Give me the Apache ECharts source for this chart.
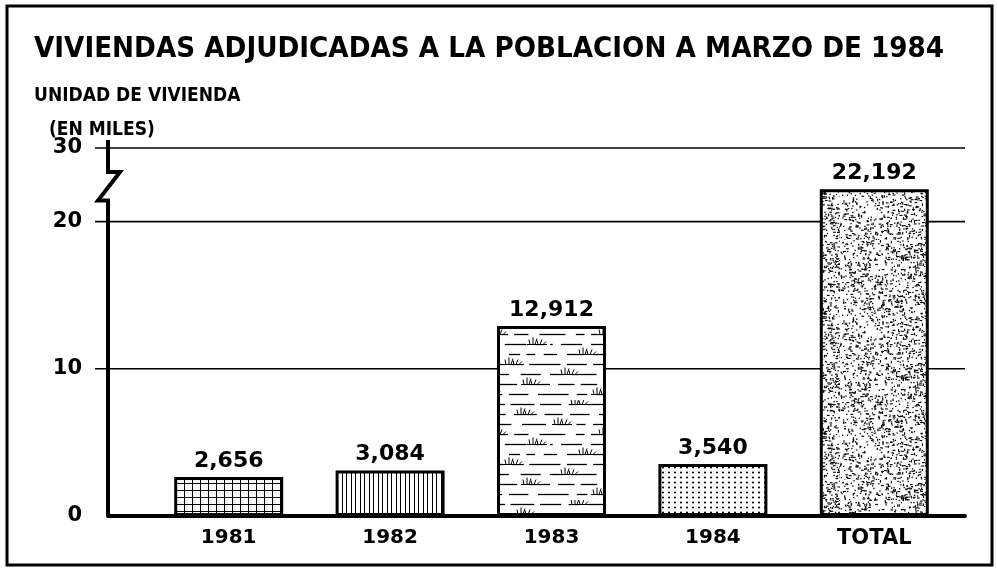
<!DOCTYPE html>
<html>
<head>
<meta charset="utf-8">
<script src="https://cdn.jsdelivr.net/npm/echarts@6/dist/echarts.min.js"></script>
<style>
  html, body { margin: 0; padding: 0; background: #fff; }
  #chart { width: 997px; height: 568px; }
</style>
</head>
<body>
<div id="chart"></div>
<script>
// Viviendas adjudicadas (unidades) por año y total acumulado
const categories = ['1981', '1982', '1983', '1984', 'TOTAL'];
const viviendas = [2656, 3084, 12912, 3540, 22192];
// Vertical scale in thousands; the top tick sits above the axis break and reads 30
const yTickValues = [0, 10, 20, 25];
const yTickLabels = ['0', '10', '20', '30'];
const gridValues = [10, 20, 25];

// ---- fill textures ----
function tile(w, h) {
  const c = document.createElement('canvas');
  c.width = w; c.height = h;
  const g = c.getContext('2d');
  g.fillStyle = '#fff';
  g.fillRect(0, 0, w, h);
  g.fillStyle = '#000';
  g.strokeStyle = '#000';
  return [c, g];
}
function seeded(seed) {
  let s = seed >>> 0;
  return function () {
    s = (s * 1664525 + 1013904223) >>> 0;
    return s / 4294967296;
  };
}
function gridHatch() {
  const [c, g] = tile(8, 7);
  g.fillRect(0, 0, 1, 7);
  g.fillRect(0, 0, 8, 1);
  return c;
}
function verticalLines() {
  const [c, g] = tile(9, 8);
  g.fillRect(0, 0, 1, 8);
  g.fillRect(4, 0, 1, 8);
  return c;
}
function marsh() {
  const [c, g] = tile(110, 100);
  const rnd = seeded(11);
  g.lineWidth = 1.3;
  for (let row = 0; row < 10; row++) {
    const y = row * 10 + 4.5;
    let x = -rnd() * 12;
    while (x < 110) {
      const len = 8 + rnd() * 22;
      g.beginPath();
      g.moveTo(x, y);
      g.lineTo(Math.min(x + len, 110), y);
      g.stroke();
      x += len + 5 + rnd() * 7;
    }
  }
  // small grass tufts sitting on some of the dashes
  const tufts = [[22, 4.5], [78, 14.5], [5, 24.5], [50, 34.5], [90, 44.5],
                 [30, 54.5], [66, 64.5], [12, 74.5], [84, 84.5], [44, 94.5]];
  g.lineWidth = 1;
  tufts.forEach(([tx, ty]) => {
    g.fillStyle = '#fff';
    g.fillRect(tx - 3, ty - 7, 20, 6.5);
    g.beginPath();
    g.moveTo(tx - 3, ty); g.lineTo(tx + 17, ty);
    const blades = [[0, -1, 5], [3, 0, 7], [5, 2, 6], [8, -1, 4], [10, 2, 5], [13, 3, 3]];
    blades.forEach(([bx, lean, h]) => {
      g.moveTo(tx + bx, ty);
      g.lineTo(tx + bx + lean, ty - h);
    });
    g.stroke();
  });
  return c;
}
function dots() {
  const [c, g] = tile(6, 5);
  g.beginPath();
  g.arc(3, 2.5, 1.05, 0, Math.PI * 2);
  g.fill();
  return c;
}
function stipple() {
  const [c, g] = tile(120, 120);
  const rnd = seeded(1984);
  for (let i = 0; i < 1450; i++) {
    const x = rnd() * 120, y = rnd() * 120;
    const r = rnd();
    if (r < 0.65) g.fillRect(x, y, 1.3, 1.3);
    else if (r < 0.88) g.fillRect(x, y, 2.8, 1.1);
    else g.fillRect(x, y, 1.1, 2.6);
  }
  return c;
}
const fills = [gridHatch(), verticalLines(), marsh(), dots(), stipple()];

const chart = echarts.init(document.getElementById('chart'), null, { renderer: 'canvas' });

const narrow = '"Liberation Sans Narrow", "DejaVu Sans Condensed", sans-serif';
const tickFont = { fontFamily: 'DejaVu Sans', fontWeight: 'bold', fontSize: 19, color: '#000' };

const option = {
  animation: false,
  backgroundColor: '#fff',
  title: [
    {
      text: 'VIVIENDAS ADJUDICADAS A LA POBLACION A MARZO DE 1984',
      left: 29, top: 30,
      textStyle: { fontFamily: narrow, fontWeight: 'bold', fontSize: 29.2, color: '#000' }
    },
    {
      text: 'UNIDAD DE VIVIENDA',
      left: 29, top: 82,
      textStyle: { fontFamily: narrow, fontWeight: 'bold', fontSize: 19, color: '#000' }
    },
    {
      text: '(EN MILES)',
      left: 44, top: 116,
      textStyle: { fontFamily: narrow, fontWeight: 'bold', fontSize: 19, color: '#000' }
    }
  ],
  graphic: [
    {
      type: 'rect', z: 100,
      shape: { x: 7, y: 6, width: 985, height: 559 },
      style: { fill: null, stroke: '#000', lineWidth: 3 }
    }
  ],
  grid: [
    { left: 108, right: 32, top: 148, bottom: 52 },
    { left: 148, right: 42, top: 148, bottom: 52 }
  ],
  xAxis: [
    {
      type: 'value', gridIndex: 0, min: 0, max: 1,
      axisLine: { show: true, lineStyle: { color: '#000', width: 4 } },
      axisTick: { show: false }, axisLabel: { show: false }, splitLine: { show: false }
    },
    {
      type: 'category', gridIndex: 1,
      data: categories,
      axisLine: { show: false }, axisTick: { show: false },
      axisLabel: Object.assign({
        margin: 12,
        interval: 0,
        hideOverlap: false,
        formatter: v => (v === 'TOTAL' ? '{total|' + v + '}' : v),
        rich: {
          total: { fontFamily: 'DejaVu Sans', fontWeight: 'bold', fontSize: 21, color: '#000' }
        }
      }, tickFont, { fontSize: 20 })
    }
  ],
  yAxis: [
    {
      type: 'value', gridIndex: 0, min: 0, max: 25, interval: 5,
      axisLine: { show: false }, axisTick: { show: false }, splitLine: { show: false },
      axisLabel: Object.assign({
        margin: 26,
        formatter: v => {
          const i = yTickValues.indexOf(v);
          return i < 0 ? '' : yTickLabels[i];
        }
      }, tickFont, { fontSize: 21 })
    },
    { type: 'value', gridIndex: 1, min: 0, max: 25, show: false }
  ],
  series: [
    {
      // broken value axis, its tick marks and the reference lines
      type: 'custom',
      xAxisIndex: 0, yAxisIndex: 0,
      z: 1,
      data: [[0, 0]],
      renderItem: function (params, api) {
        const base = api.coord([0, 0]);
        const top = api.coord([0, 25]);
        const p20 = api.coord([0, 20]);
        const x0 = base[0];
        const zigTop = top[1] + 24;
        const zigBot = p20[1] - 21;
        const children = [];
        gridValues.forEach(v => {
          const a = api.coord([0, v]);
          const b = api.coord([1, v]);
          children.push({
            type: 'line',
            shape: { x1: a[0] - 13, y1: a[1], x2: b[0], y2: b[1] },
            style: { stroke: '#000', lineWidth: 1.6 }
          });
        });
        children.push({
          type: 'polyline',
          shape: {
            points: [
              [x0, top[1] - 8], [x0, zigTop], [x0 + 12, zigTop],
              [x0 - 10, zigBot], [x0, zigBot], [x0, base[1]]
            ]
          },
          style: { stroke: '#000', lineWidth: 4, fill: null, lineJoin: 'miter' }
        });
        return { type: 'group', children: children };
      }
    },
    {
      type: 'bar',
      xAxisIndex: 1, yAxisIndex: 1,
      z: 5,
      barWidth: 109,
      data: viviendas.map((v, i) => ({
        value: v / 1000,
        itemStyle: { color: { image: fills[i], repeat: 'repeat' } }
      })),
      itemStyle: { borderColor: '#000', borderWidth: 3 },
      label: {
        show: true, position: 'top', distance: 5,
        fontFamily: 'DejaVu Sans', fontWeight: 'bold', fontSize: 22, color: '#000',
        formatter: p => viviendas[p.dataIndex].toLocaleString('en-US')
      }
    }
  ]
};
chart.setOption(option);
</script>
</body>
</html>
